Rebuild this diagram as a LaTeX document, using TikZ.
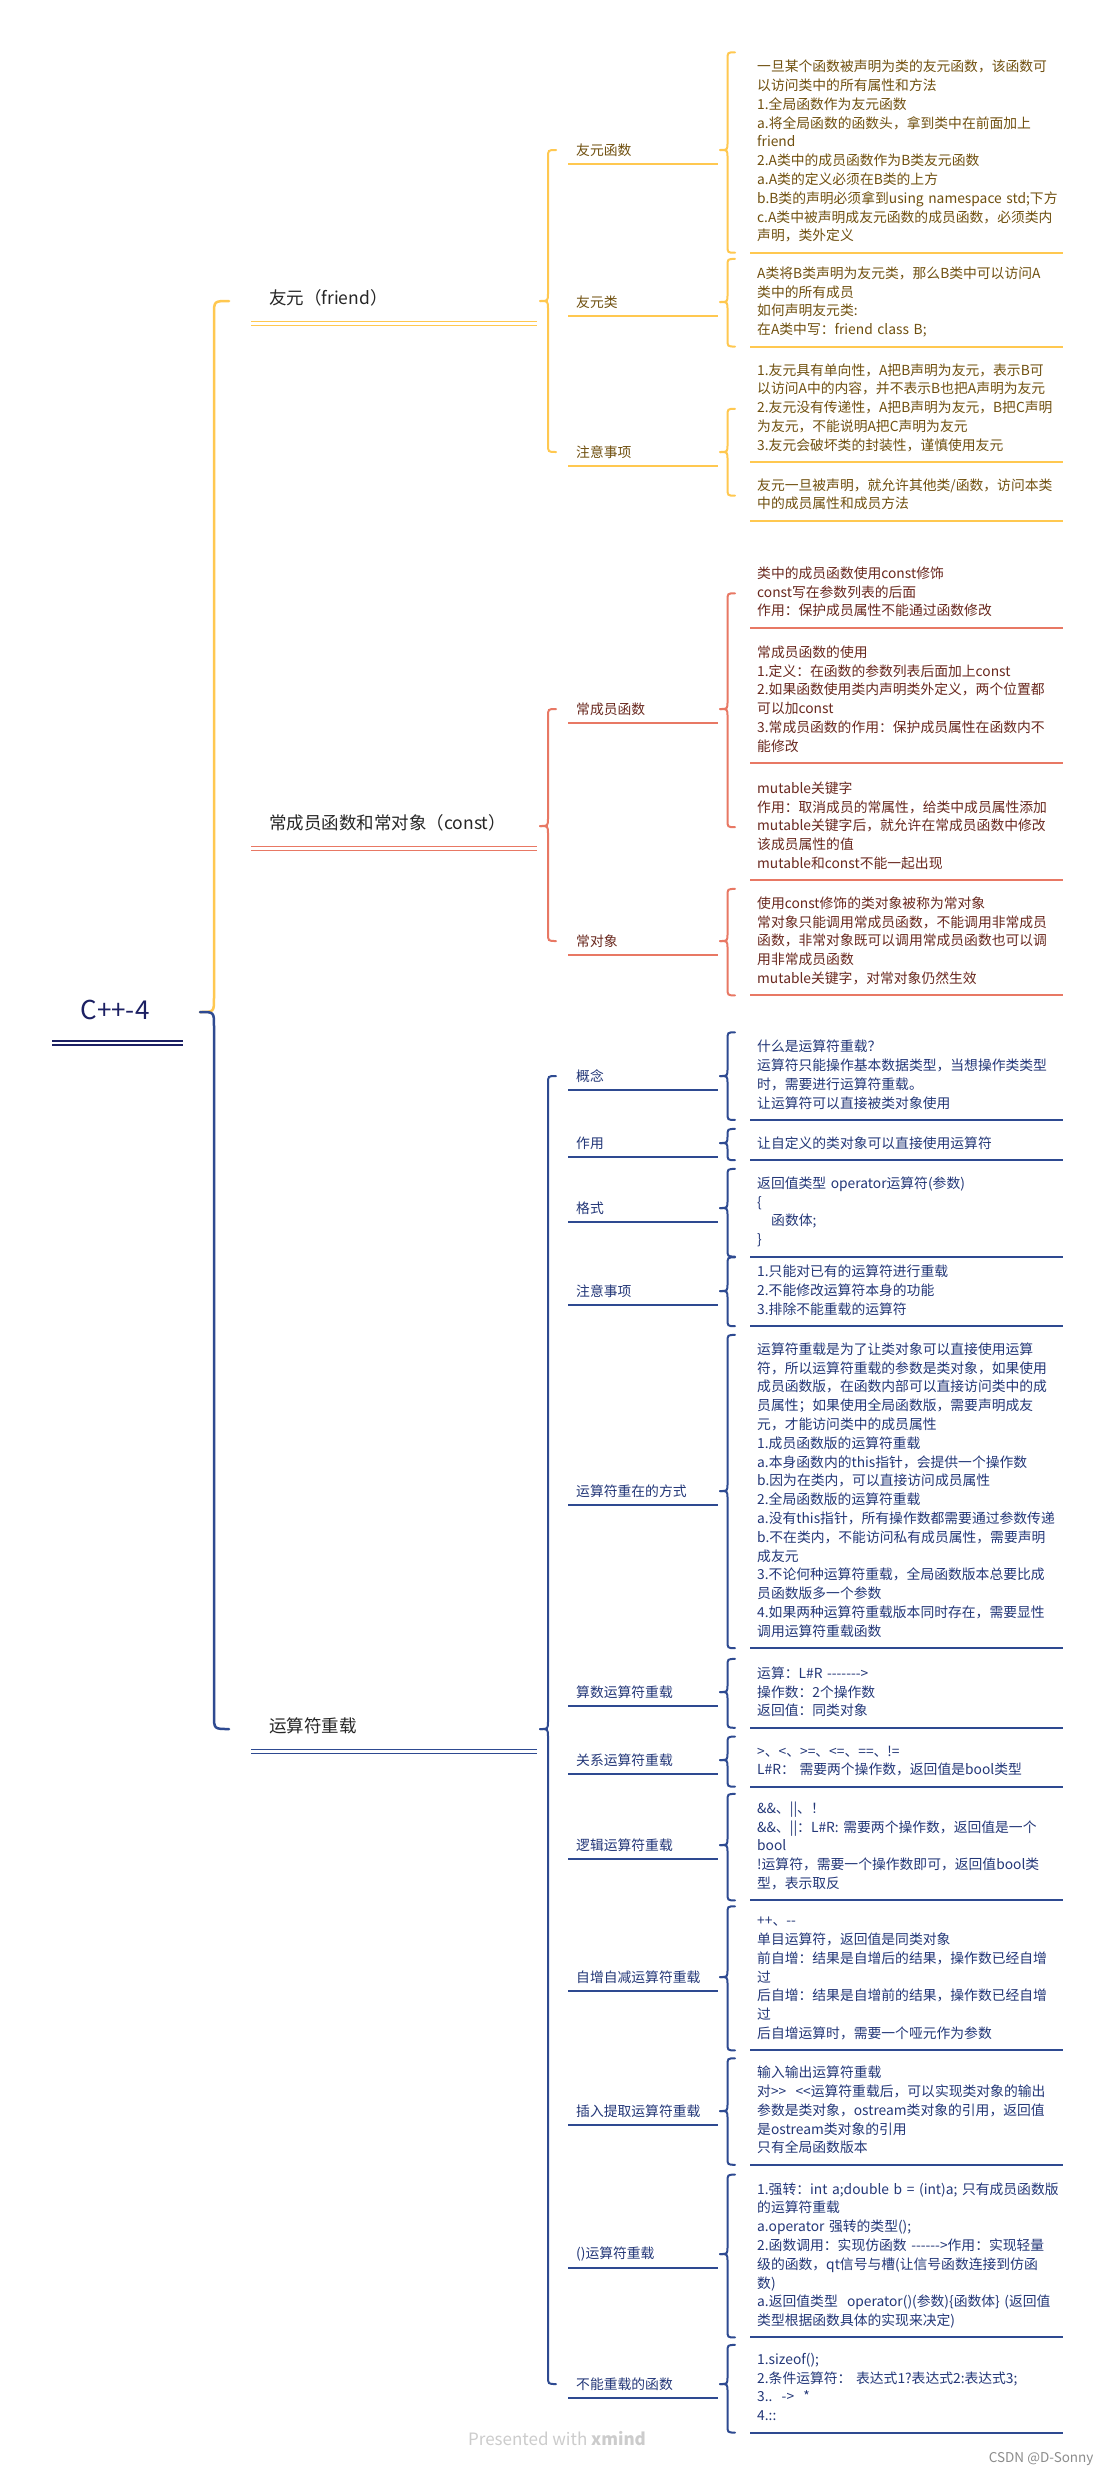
\documentclass[tikz,border=0pt]{standalone}
\usepackage{fontspec}
\newfontfamily\cjk{Noto Sans CJK SC}
\usetikzlibrary{calc}
\definecolor{fline}{HTML}{FFC850}
\definecolor{ftext}{HTML}{70500F}
\definecolor{cline}{HTML}{E87864}
\definecolor{ctext}{HTML}{69281E}
\definecolor{oline}{HTML}{2E4A91}
\definecolor{otext}{HTML}{233778}
\definecolor{rootc}{HTML}{1C2063}
\newcommand\hy{-\kern0pt}
% half of a brace: tip, end point, arm
\newcommand\halfbrc[4]{%
  \draw[#1] let \p1=(#2), \p2=(#3), \n1={(\y2-\y1)/abs(\y2-\y1)} in
    (\p1) .. controls (\x1+#4,\y1) .. (\x1+#4,\y1+\n1*#4)
    -- (\x1+#4,\y2-\n1*#4) .. controls (\x1+#4,\y2) .. (\p2);}
\newcommand\brc[5]{\halfbrc{#1}{#2}{#3}{#5}\halfbrc{#1}{#2}{#4}{#5}}
\tikzset{rootnode/.style={font=\cjk\fontsize{26}{30}\selectfont, text=rootc, inner sep=0pt},
  lvone/.style={anchor=west, inner xsep=40pt, inner ysep=0pt, font=\cjk\fontsize{17.5}{21}\selectfont, text=black!85},
  lvtwo/.style={anchor=west, inner xsep=20pt, inner ysep=0pt, font=\cjk\fontsize{13.8}{18.8}\selectfont},
  leaf/.style={anchor=base west, text width=360pt, align=left, inner xsep=22pt, inner ysep=6pt,
    font=\cjk\fontsize{13.8}{18.8}\selectfont, execute at begin node=\strut, execute at end node=\strut},
  fbr/.style={draw=fline, line width=2pt, line cap=round},
  cbr/.style={draw=cline, line width=2pt, line cap=round},
  obr/.style={draw=oline, line width=2pt, line cap=round}}

\begin{document}
\begin{tikzpicture}[x=1pt,y=-1pt]
  \useasboundingbox[fill=white] (0,0) rectangle (1113,2476);
  % root
  \node[rootnode] (root) at (115,1010) {C++-4};
  \draw[rootc, line width=2pt] ($(root.center)+(-63,31)$) -- ++(131,0);
  \draw[rootc, line width=2pt] ($(root.center)+(-63,35)$) -- ++(131,0);
  % main branches
  \node[lvone] (lf) at (229,298) {友元（friend）};
  \node[lvone] (lc) at (229,823) {常成员函数和常对象（const）};
  \node[lvone] (lo) at (229,1726) {运算符重载};
  \foreach \n/\col in {lf/fline,lc/cline,lo/oline}{
    \draw[color=\col, line width=1.5pt] ($(\n.west)+(22,23.5)$) -- ($(\n.west)+(308,23.5)$);
    \draw[color=\col, line width=1.5pt] ($(\n.west)+(22,27.5)$) -- ($(\n.west)+(308,27.5)$);
  }
  \halfbrc{fbr, line width=2.5pt}{$(root.center)+(85,2)$}{$(lf.west)+(0,3)$}{14pt}
  \halfbrc{obr, line width=2.5pt}{$(root.center)+(85,2)$}{$(lo.west)+(0,3)$}{14pt}

  % friend
  \node[lvtwo, text=ftext] (nf1) at (556,150) {友元函数};
  \node[lvtwo, text=ftext] (nf2) at (556,302) {友元类};
  \node[lvtwo, text=ftext] (nf3) at (556,452) {注意事项};
  \node[leaf, text=ftext] (f1) at (735,71.7) {一旦某个函数被声明为类的友元函数，该函数可\\
以访问类中的所有属性和方法\\
1.全局函数作为友元函数\\
a.将全局函数的函数头，拿到类中在前面加上\\
friend\\
2.A类中的成员函数作为B类友元函数\\
a.A类的定义必须在B类的上方\\
b.B类的声明必须拿到using namespace std;下方\\
c.A类中被声明成友元函数的成员函数，必须类内\\
声明，类外定义};
  \node[leaf, text=ftext] (f2) at (735,278.3) {A类将B类声明为友元类，那么B类中可以访问A\\
类中的所有成员\\
如何声明友元类:\\
在A类中写：friend class B;};
  \node[leaf, text=ftext] (f3) at (735,375) {1.友元具有单向性，A把B声明为友元，表示B可\\
以访问A中的内容，并不表示B也把A声明为友元\\
2.友元没有传递性，A把B声明为友元，B把C声明\\
为友元，不能说明A把C声明为友元\\
3.友元会破坏类的封装性，谨慎使用友元};
  \node[leaf, text=ftext] (f4) at (735,490) {友元一旦被声明，就允许其他类/函数，访问本类\\
中的成员属性和成员方法};
  \brc{fbr}{$(lf.west)+(311,3)$}{nf1.west}{nf3.west}{8pt}
  \brc{fbr}{$(nf1.west)+(164,0)$}{f1.north west}{f1.south west}{7.5pt}
  \brc{fbr}{$(nf2.west)+(164,0)$}{f2.north west}{f2.south west}{7.5pt}
  \brc{fbr}{$(nf3.west)+(164,0)$}{f3.west}{f4.west}{7.5pt}
  \foreach \n in {nf1,nf2,nf3}
    \draw[fline, line width=1.5pt] ($(\n.west)+(12,14)$) -- ($(\n.west)+(162,14)$);
  \foreach \n in {f1,f2,f3,f4}
    \draw[fline, line width=2pt] ($(\n.south west)+(15,0)$) -- ($(\n.south west)+(328,0)$);

  % const
  \node[lvtwo, text=ctext] (nc1) at (556,709) {常成员函数};
  \node[lvtwo, text=ctext] (nc2) at (556,941) {常对象};
  \node[leaf, text=ctext] (c1) at (735,578.3) {类中的成员函数使用const修饰\\
const写在参数列表的后面\\
作用：保护成员属性不能通过函数修改};
  \node[leaf, text=ctext] (c2) at (735,657.3) {常成员函数的使用\\
1.定义：在函数的参数列表后面加上const\\
2.如果函数使用类内声明类外定义，两个位置都\\
可以加const\\
3.常成员函数的作用：保护成员属性在函数内不\\
能修改};
  \node[leaf, text=ctext] (c3) at (735,793.3) {mutable关键字\\
作用：取消成员的常属性，给类中成员属性添加\\
mutable关键字后，就允许在常成员函数中修改\\
该成员属性的值\\
mutable和const不能一起出现};
  \node[leaf, text=ctext] (c4) at (735,908.3) {使用const修饰的类对象被称为常对象\\
常对象只能调用常成员函数，不能调用非常成员\\
函数，非常对象既可以调用常成员函数也可以调\\
用非常成员函数\\
mutable关键字，对常对象仍然生效};
  \brc{cbr}{$(lc.west)+(311,3)$}{nc1.west}{nc2.west}{8pt}
  \brc{cbr}{$(nc1.west)+(164,0)$}{c1.west}{c3.west}{7.5pt}
  \brc{cbr}{$(nc2.west)+(164,0)$}{c4.north west}{c4.south west}{7.5pt}
  \foreach \n in {nc1,nc2}
    \draw[cline, line width=1.5pt] ($(\n.west)+(12,14)$) -- ($(\n.west)+(162,14)$);
  \foreach \n in {c1,c2,c3,c4}
    \draw[cline, line width=2pt] ($(\n.south west)+(15,0)$) -- ($(\n.south west)+(328,0)$);

  % operator overloading
  \node[lvtwo, text=otext] (no1) at (556,1076) {概念};
  \node[lvtwo, text=otext] (no2) at (556,1143) {作用};
  \node[lvtwo, text=otext] (no3) at (556,1208) {格式};
  \node[lvtwo, text=otext] (no4) at (556,1291) {注意事项};
  \node[lvtwo, text=otext] (no5) at (556,1491) {运算符重在的方式};
  \node[lvtwo, text=otext] (no6) at (556,1692) {算数运算符重载};
  \node[lvtwo, text=otext] (no7) at (556,1760) {关系运算符重载};
  \node[lvtwo, text=otext] (no8) at (556,1845) {逻辑运算符重载};
  \node[lvtwo, text=otext] (no9) at (556,1977) {自增自减运算符重载};
  \node[lvtwo, text=otext] (no10) at (556,2111) {插入提取运算符重载};
  \node[lvtwo, text=otext] (no11) at (556,2254) {()运算符重载};
  \node[lvtwo, text=otext] (no12) at (556,2384) {不能重载的函数};
  \node[leaf, text=otext] (o1) at (735,1051.7) {什么是运算符重载？\\
运算符只能操作基本数据类型，当想操作类类型\\
时，需要进行运算符重载。\\
让运算符可以直接被类对象使用};
  \node[leaf, text=otext] (o2) at (735,1148.3) {让自定义的类对象可以直接使用运算符};
  \node[leaf, text=otext] (o3) at (735,1188.3) {返回值类型 operator运算符(参数)\\
\{\\
\hspace*{14pt}函数体;\\
\}};
  \node[leaf, text=otext] (o4) at (735,1276.7) {1.只能对已有的运算符进行重载\\
2.不能修改运算符本身的功能\\
3.排除不能重载的运算符};
  \node[leaf, text=otext] (o5) at (735,1354.3) {运算符重载是为了让类对象可以直接使用运算\\
符，所以运算符重载的参数是类对象，如果使用\\
成员函数版，在函数内部可以直接访问类中的成\\
员属性；如果使用全局函数版，需要声明成友\\
元，才能访问类中的成员属性\\
1.成员函数版的运算符重载\\
a.本身函数内的this指针，会提供一个操作数\\
b.因为在类内，可以直接访问成员属性\\
2.全局函数版的运算符重载\\
a.没有this指针，所有操作数都需要通过参数传递\\
b.不在类内，不能访问私有成员属性，需要声明\\
成友元\\
3.不论何种运算符重载，全局函数版本总要比成\\
员函数版多一个参数\\
4.如果两种运算符重载版本同时存在，需要显性\\
调用运算符重载函数};
  \node[leaf, text=otext] (o6) at (735,1678.3) {运算：L\#R \hy\hy\hy\hy\hy\hy->\\
操作数：2个操作数\\
返回值：同类对象};
  \node[leaf, text=otext] (o7) at (735,1756) {>、<、>=、<=、==、!=\\
L\#R：\ 需要两个操作数，返回值是bool类型};
  \node[leaf, text=otext] (o8) at (735,1813.3) {\&\&、||、！\\
\&\&、||：L\#R: 需要两个操作数，返回值是一个\\
bool\\
!运算符，需要一个操作数即可，返回值bool类\\
型，表示取反};
  \node[leaf, text=otext] (o9) at (735,1925.7) {++、\hy-\\
单目运算符，返回值是同类对象\\
前自增：结果是自增后的结果，操作数已经自增\\
过\\
后自增：结果是自增前的结果，操作数已经自增\\
过\\
后自增运算时，需要一个哑元作为参数};
  \node[leaf, text=otext] (o10) at (735,2077.7) {输入输出运算符重载\\
对>\kern0pt>\ \ <\kern0pt<运算符重载后，可以实现类对象的输出\\
参数是类对象，ostream类对象的引用，返回值\\
是ostream类对象的引用\\
只有全局函数版本};
  \node[leaf, text=otext] (o11) at (735,2194) {1.强转：int a;double b = (int)a; 只有成员函数版\\
的运算符重载\\
a.operator 强转的类型();\\
2.函数调用：实现仿函数 \hy\hy\hy\hy\hy->作用：实现轻量\\
级的函数，qt信号与槽(让信号函数连接到仿函\\
数)\\
a.返回值类型\ \ operator()(参数)\{函数体\} (返回值\\
类型根据函数具体的实现来决定)};
  \node[leaf, text=otext] (o12) at (735,2364.3) {1.sizeof();\\
2.条件运算符：\ 表达式1?表达式2:表达式3;\\
3..\ \ ->\ \ *\\
4.::};
  \brc{obr}{$(lo.west)+(311,3)$}{no1.west}{no12.west}{8pt}
  \foreach \i in {1,...,12}
    \brc{obr}{$(no\i.west)+(164,0)$}{o\i.north west}{o\i.south west}{7.5pt};
  \foreach \i in {1,...,12}{
    \draw[oline, line width=1.5pt] ($(no\i.west)+(12,14)$) -- ($(no\i.west)+(162,14)$);
    \draw[oline, line width=2pt] ($(o\i.south west)+(15,0)$) -- ($(o\i.south west)+(328,0)$);
  }

  % footer
  \node[font=\cjk\fontsize{17}{20}\selectfont, text=black!20] (xm) at (557,2439) {Presented with \textbf{xmind}};
  \node[font=\cjk\fontsize{13.5}{16}\selectfont, text=black!45, anchor=east] (csdn) at (1097,2459) {CSDN @D-Sonny};
\end{tikzpicture}
\end{document}
